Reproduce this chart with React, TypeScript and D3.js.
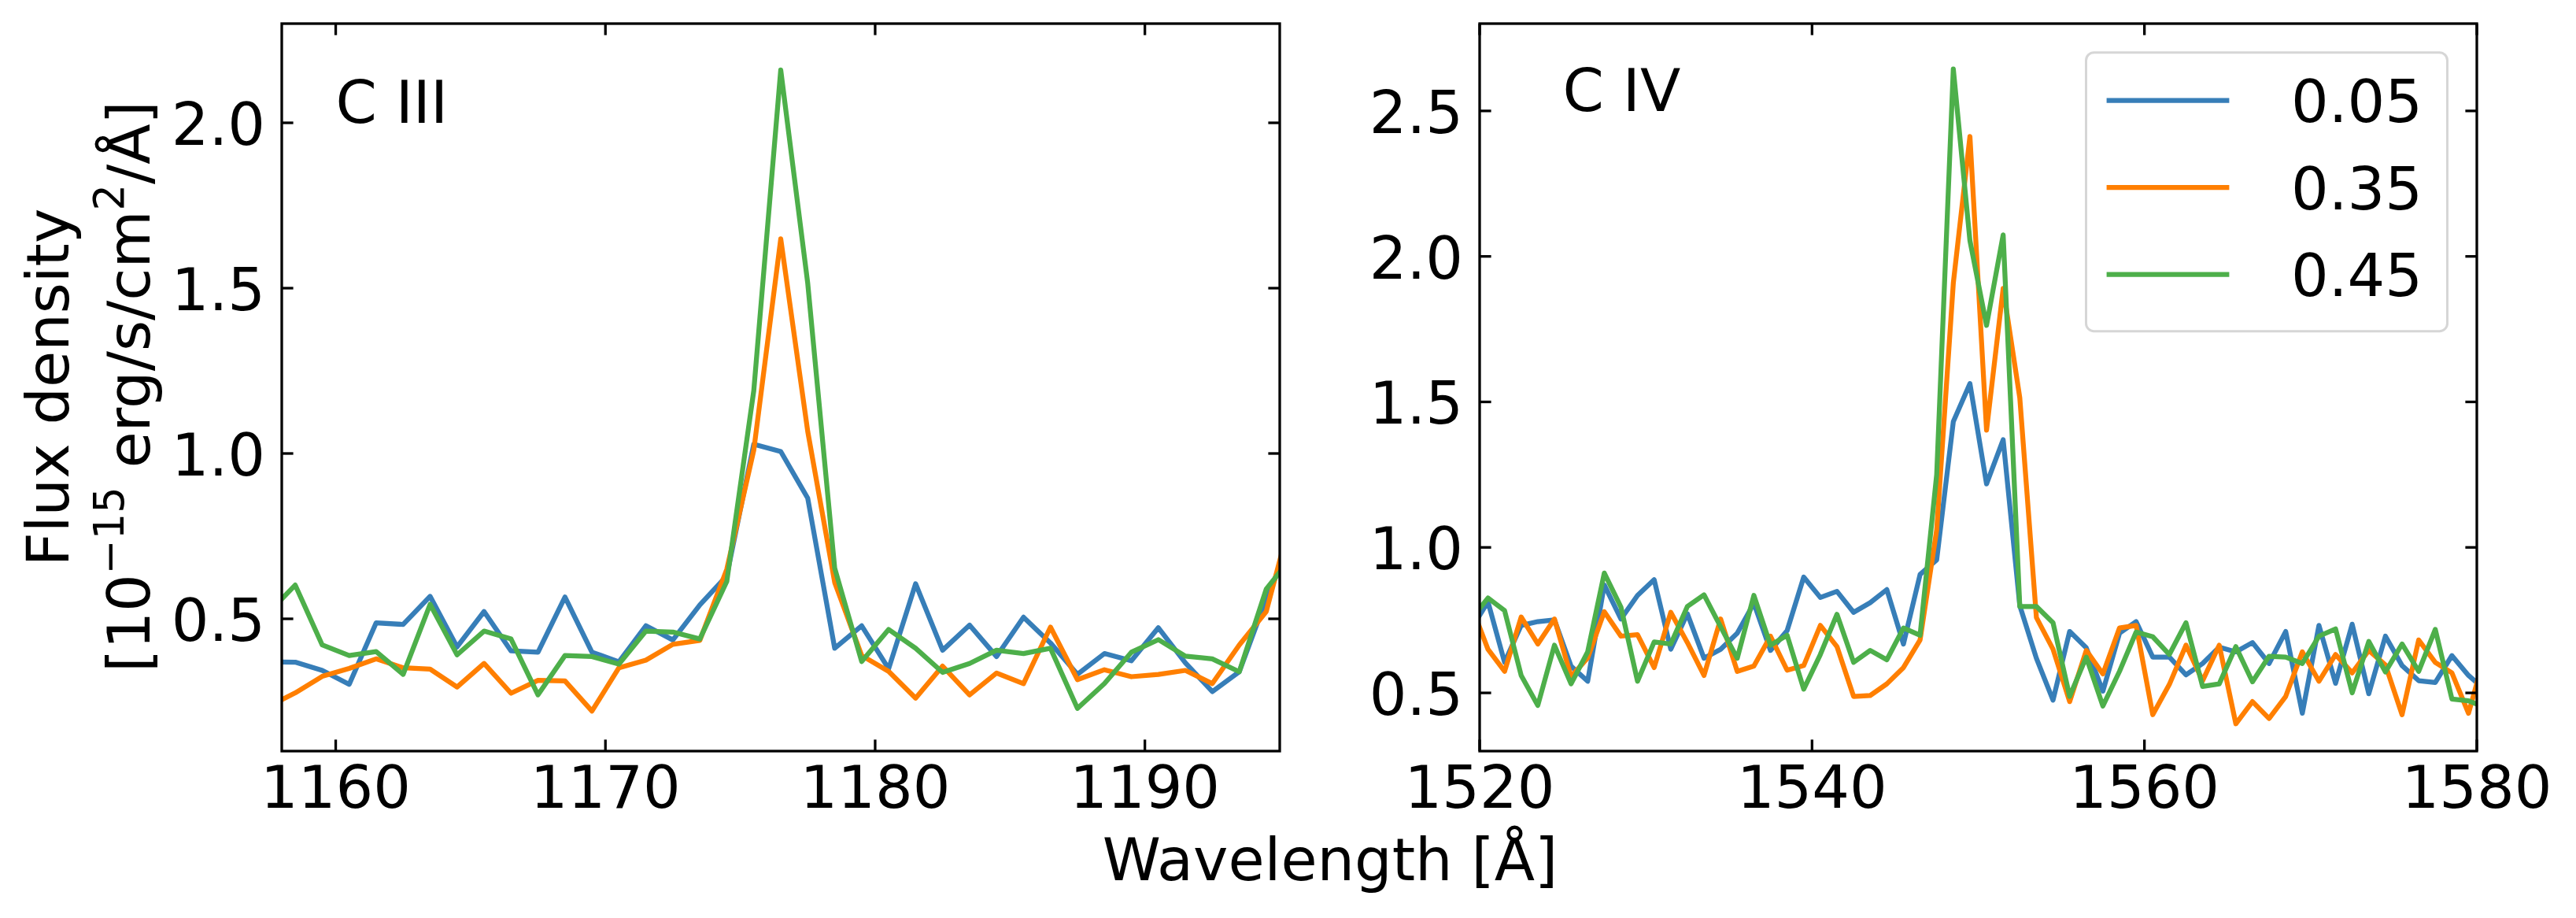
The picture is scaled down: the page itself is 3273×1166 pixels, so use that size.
import { line, scaleLinear } from "d3";
import type { ReactElement } from "react";

// wavelength grids (Å), 1 Å sampling as read from the vertices
const ciiiWave = [
  1157.5, 1158.5, 1159.5, 1160.5, 1161.5, 1162.5, 1163.5, 1164.5, 1165.5, 1166.5,
  1167.5, 1168.5, 1169.5, 1170.5, 1171.5, 1172.5, 1173.5, 1174.5, 1175.5, 1176.5,
  1177.5, 1178.5, 1179.5, 1180.5, 1181.5, 1182.5, 1183.5, 1184.5, 1185.5, 1186.5,
  1187.5, 1188.5, 1189.5, 1190.5, 1191.5, 1192.5, 1193.5, 1194.5, 1195.5,
];

const ciiiBlue = [
  0.37, 0.369, 0.344, 0.302, 0.488, 0.483, 0.568, 0.415, 0.522, 0.403,
  0.399, 0.566, 0.399, 0.37, 0.479, 0.436, 0.542, 0.63, 1.028, 1.006,
  0.865, 0.411, 0.479, 0.349, 0.606, 0.405, 0.481, 0.386, 0.505, 0.427,
  0.332, 0.395, 0.373, 0.473, 0.367, 0.28, 0.34, 0.56, 0.75,
];
const ciiiOrange = [
  0.235, 0.276, 0.326, 0.35, 0.379, 0.352, 0.348, 0.294, 0.365, 0.275,
  0.314, 0.312, 0.221, 0.352, 0.375, 0.423, 0.435, 0.65, 1.01, 1.649,
  1.067, 0.61, 0.389, 0.341, 0.26, 0.357, 0.27, 0.336, 0.304, 0.475,
  0.316, 0.346, 0.325, 0.332, 0.344, 0.304, 0.421, 0.522, 0.83,
];
const ciiiGreen = [
  0.518, 0.602, 0.421, 0.389, 0.401, 0.332, 0.544, 0.391, 0.463, 0.439,
  0.27, 0.389, 0.386, 0.363, 0.463, 0.46, 0.439, 0.613, 1.19, 2.16,
  1.515, 0.653, 0.371, 0.468, 0.411, 0.338, 0.365, 0.405, 0.395, 0.411,
  0.229, 0.304, 0.399, 0.437, 0.387, 0.379, 0.34, 0.59, 0.692,
];

const civWave = [
  1519.5, 1520.5, 1521.5, 1522.5, 1523.5, 1524.5, 1525.5, 1526.5, 1527.5, 1528.5,
  1529.5, 1530.5, 1531.5, 1532.5, 1533.5, 1534.5, 1535.5, 1536.5, 1537.5, 1538.5,
  1539.5, 1540.5, 1541.5, 1542.5, 1543.5, 1544.5, 1545.5, 1546.5, 1547.5, 1548.5,
  1549.5, 1550.5, 1551.5, 1552.5, 1553.5, 1554.5, 1555.5, 1556.5, 1557.5, 1558.5,
  1559.5, 1560.5, 1561.5, 1562.5, 1563.5, 1564.5, 1565.5, 1566.5, 1567.5, 1568.5,
  1569.5, 1570.5, 1571.5, 1572.5, 1573.5, 1574.5, 1575.5, 1576.5, 1577.5, 1578.5,
  1579.5, 1580.5,
];

const civBlue = [
  0.72, 0.813, 0.605, 0.732, 0.745, 0.751, 0.592, 0.54, 0.871, 0.754,
  0.835, 0.889, 0.65, 0.772, 0.619, 0.65, 0.705, 0.808, 0.646, 0.714,
  0.898, 0.828, 0.849, 0.777, 0.81, 0.855, 0.668, 0.907, 0.957, 1.432,
  1.563, 1.218, 1.37, 0.8, 0.619, 0.475, 0.711, 0.655, 0.506, 0.705,
  0.745, 0.623, 0.623, 0.562, 0.601, 0.657, 0.641, 0.673, 0.601, 0.711,
  0.43, 0.732, 0.533, 0.736, 0.497, 0.695, 0.594, 0.542, 0.536, 0.628,
  0.56, 0.51,
];
const civOrange = [
  0.8, 0.65, 0.574, 0.761, 0.668, 0.754, 0.556, 0.62, 0.779, 0.695,
  0.7, 0.587, 0.777, 0.673, 0.56, 0.754, 0.574, 0.592, 0.695, 0.578,
  0.594, 0.732, 0.659, 0.488, 0.491, 0.531, 0.587, 0.682, 1.06, 1.908,
  2.412, 1.403, 1.89, 1.514, 0.759, 0.65, 0.47, 0.646, 0.565, 0.723,
  0.732, 0.425, 0.529, 0.664, 0.542, 0.664, 0.394, 0.47, 0.412, 0.488,
  0.641, 0.54, 0.632, 0.569, 0.646, 0.596, 0.425, 0.682, 0.605, 0.569,
  0.43, 0.635,
];
const civGreen = [
  0.754, 0.826, 0.783, 0.56, 0.457, 0.664, 0.531, 0.641, 0.912, 0.795,
  0.54, 0.675, 0.668, 0.797, 0.837, 0.727, 0.619, 0.835, 0.664, 0.698,
  0.513, 0.632, 0.77, 0.605, 0.646, 0.614, 0.723, 0.698, 1.25, 2.644,
  2.054, 1.763, 2.074, 0.797, 0.797, 0.741, 0.488, 0.623, 0.455, 0.574,
  0.709, 0.693, 0.632, 0.741, 0.522, 0.531, 0.659, 0.538, 0.626, 0.623,
  0.601, 0.695, 0.72, 0.5, 0.677, 0.572, 0.668, 0.574, 0.718, 0.479,
  0.473, 0.45,
];

const legendLabels = ["0.05", "0.35", "0.45"];
const seriesColors = ["#377eb8", "#ff7f00", "#4daf4a"];

const ciiiXTicks = [1160, 1170, 1180, 1190];
const ciiiYTicks = [0.5, 1.0, 1.5, 2.0];
const civXTicks = [1520, 1540, 1560, 1580];
const civYTicks = [0.5, 1.0, 1.5, 2.0, 2.5];

const FONT = "DejaVu Sans";
const FS = 75;
const width = 3273;
const height = 1166;
const top = 30;
const bottom = 954;
const tickLen = 14.6;
const spineW = 3.3;

type PanelProps = Readonly<{
  id: string;
  wave: ReadonlyArray<number>;
  series: ReadonlyArray<ReadonlyArray<number>>;
  xDomain: [number, number];
  yDomain: [number, number];
  xTicks: ReadonlyArray<number>;
  yTicks: ReadonlyArray<number>;
  left: number;
  right: number;
  label: string;
  labelAt: [number, number];
  legend?: boolean;
}>;

const Panel = (props: PanelProps): ReactElement => {
  const { id, wave, series, xDomain, yDomain, xTicks, yTicks, left, right, label, labelAt, legend } = props;
  const x = scaleLinear().domain(xDomain).range([left, right]);
  const y = scaleLinear().domain(yDomain).range([bottom, top]);

  const pathFor = (vals: ReadonlyArray<number>): string => {
    const gen = line<number>()
      .x((_, i) => x(wave[i]))
      .y((d) => y(d));
    return gen(vals as number[]) ?? "";
  };

  const lgX = 2650.5;
  const lgY = 66.7;

  return (
    <g>
      <defs>
        <clipPath id={`clip-${id}`}>
          <rect x={left} y={top} width={right - left} height={bottom - top} />
        </clipPath>
      </defs>

      <g clipPath={`url(#clip-${id})`}>
        {series.map((vals, i) => (
          <path
            key={`s-${i}`}
            d={pathFor(vals)}
            fill="none"
            stroke={seriesColors[i]}
            strokeWidth={6.25}
            strokeLinejoin="round"
            strokeLinecap="butt"
          />
        ))}
      </g>

      <text x={x(labelAt[0])} y={y(labelAt[1])} fontFamily={FONT} fontSize={FS} fill="#000">
        {label}
      </text>

      {xTicks.map((t) => (
        <g key={`xt-${t}`}>
          <line x1={x(t)} x2={x(t)} y1={bottom} y2={bottom - tickLen} stroke="#000" strokeWidth={spineW} />
          <line x1={x(t)} x2={x(t)} y1={top} y2={top + tickLen} stroke="#000" strokeWidth={spineW} />
          <text x={x(t)} y={bottom + 72} textAnchor="middle" fontFamily={FONT} fontSize={FS} fill="#000">
            {t}
          </text>
        </g>
      ))}

      {yTicks.map((t) => (
        <g key={`yt-${t}`}>
          <line x1={left} x2={left + tickLen} y1={y(t)} y2={y(t)} stroke="#000" strokeWidth={spineW} />
          <line x1={right} x2={right - tickLen} y1={y(t)} y2={y(t)} stroke="#000" strokeWidth={spineW} />
          <text x={left - 21} y={y(t) + 28} textAnchor="end" fontFamily={FONT} fontSize={FS} fill="#000">
            {t.toFixed(1)}
          </text>
        </g>
      ))}

      <rect x={left} y={top} width={right - left} height={bottom - top} fill="none" stroke="#000" strokeWidth={spineW} />

      {legend === true && (
        <g>
          <rect x={lgX} y={lgY} width={459} height={354} rx={10} fill="#ffffff" fillOpacity={0.8} stroke="#d6d6d6" strokeWidth={3} />
          {legendLabels.map((lab, i) => {
            const ly = 127.7 + i * 110.5;
            return (
              <g key={`lg-${lab}`}>
                <line x1={2676.6} x2={2832.4} y1={ly} y2={ly} stroke={seriesColors[i]} strokeWidth={6.25} />
                <text x={2911} y={ly + 27.5} fontFamily={FONT} fontSize={FS} fill="#000">
                  {lab}
                </text>
              </g>
            );
          })}
        </g>
      )}
    </g>
  );
};

export default function App(): ReactElement {
  return (
    <svg
      width={width}
      height={height}
      viewBox={`0 0 ${width} ${height}`}
      style={{ position: "absolute", left: 0, top: 0, display: "block", background: "#fff" }}
    >
      <rect x={0} y={0} width={width} height={height} fill="#fff" />

      <Panel
        id="ciii"
        wave={ciiiWave}
        series={[ciiiBlue, ciiiOrange, ciiiGreen]}
        xDomain={[1158, 1195]}
        yDomain={[0.1, 2.3]}
        xTicks={ciiiXTicks}
        yTicks={ciiiYTicks}
        left={358}
        right={1626}
        label="C III"
        labelAt={[1160, 2.0]}
      />
      <Panel
        id="civ"
        wave={civWave}
        series={[civBlue, civOrange, civGreen]}
        xDomain={[1520, 1580]}
        yDomain={[0.3, 2.8]}
        xTicks={civXTicks}
        yTicks={civYTicks}
        left={1880}
        right={3147}
        label="C IV"
        labelAt={[1525, 2.5]}
        legend
      />

      <text x={1690} y={1118} textAnchor="middle" fontFamily={FONT} fontSize={FS} fill="#000">
        Wavelength [Å]
      </text>

      <g transform="translate(87, 492) rotate(-90)">
        <text x={0} y={0} textAnchor="middle" fontFamily={FONT} fontSize={FS} fill="#000">
          Flux density
        </text>
      </g>
      <g transform="translate(190, 491) rotate(-90)">
        <text x={0} y={0} textAnchor="middle" fontFamily={FONT} fontSize={FS} fill="#000">
          [10
          <tspan fontSize={52.5} dy={-33}>−15</tspan>
          <tspan dy={33}> erg/s/cm</tspan>
          <tspan fontSize={52.5} dy={-33}>2</tspan>
          <tspan dy={33}>/Å]</tspan>
        </text>
      </g>
    </svg>
  );
}
